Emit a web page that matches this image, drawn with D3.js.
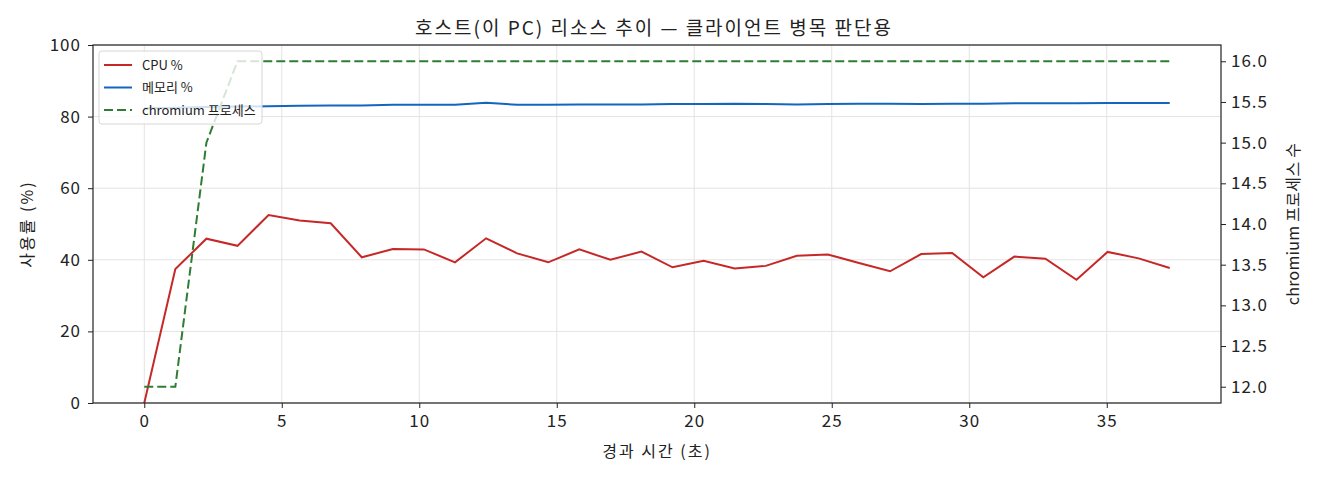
<!DOCTYPE html>
<html>
<head>
<meta charset="utf-8">
<script src="https://cdn.jsdelivr.net/npm/d3@7"></script>
<style>
  body { margin: 0; background: #fff; }
  svg text { font-family: "Noto Sans CJK KR", "DejaVu Sans", sans-serif; fill: #222; }
</style>
</head>
<body>
<svg id="chart" width="1320" height="480"></svg>
<script>
// --- data ---
const elapsed = [0, 1.13, 2.26, 3.39, 4.52, 5.65, 6.78, 7.91, 9.04, 10.17,
  11.3, 12.43, 13.56, 14.69, 15.82, 16.95, 18.08, 19.21, 20.34, 21.47,
  22.6, 23.73, 24.86, 25.99, 27.12, 28.25, 29.38, 30.51, 31.64, 32.77,
  33.9, 35.03, 36.16, 37.29];
const cpuPct = [0, 37.4, 45.9, 43.9, 52.5, 51.0, 50.2, 40.7, 43.0, 42.9,
  39.3, 46.0, 41.8, 39.3, 42.9, 40.0, 42.3, 37.9, 39.7, 37.6,
  38.3, 41.1, 41.5, 39.1, 36.8, 41.6, 41.9, 35.1, 40.9, 40.3,
  34.4, 42.2, 40.4, 37.7];
const memPct = [82.3, 82.5, 82.7, 82.8, 82.9, 83.0, 83.1, 83.1, 83.3, 83.3,
  83.3, 83.9, 83.3, 83.3, 83.4, 83.4, 83.4, 83.5, 83.5, 83.6,
  83.5, 83.4, 83.5, 83.6, 83.6, 83.5, 83.6, 83.6, 83.7, 83.7,
  83.7, 83.8, 83.8, 83.8];
const chromiumProcs = [12, 12, 15, 16, 16, 16, 16, 16, 16, 16,
  16, 16, 16, 16, 16, 16, 16, 16, 16, 16,
  16, 16, 16, 16, 16, 16, 16, 16, 16, 16,
  16, 16, 16, 16];
const xTicks = [0, 5, 10, 15, 20, 25, 30, 35];
const leftTicks = [0, 20, 40, 60, 80, 100];
const rightTicks = [12.0, 12.5, 13.0, 13.5, 14.0, 14.5, 15.0, 15.5, 16.0];

// --- layout ---
const svg = d3.select("#chart");
const margin = { top: 45, right: 99, bottom: 77, left: 93 };
const W = 1320, H = 480;
const innerW = W - margin.left - margin.right;
const innerH = H - margin.top - margin.bottom;

const xPad = (d3.max(elapsed) - d3.min(elapsed)) * 0.05;
const x = d3.scaleLinear()
  .domain([d3.min(elapsed) - xPad, d3.max(elapsed) + xPad])
  .range([0, innerW]);
const yL = d3.scaleLinear().domain([0, 100]).range([innerH, 0]);
const rPad = (d3.max(chromiumProcs) - d3.min(chromiumProcs)) * 0.05;
const yR = d3.scaleLinear()
  .domain([d3.min(chromiumProcs) - rPad, d3.max(chromiumProcs) + rPad])
  .range([innerH, 0]);

const g = svg.append("g").attr("transform", `translate(${margin.left},${margin.top})`);

// --- grid ---
g.append("g").selectAll("line").data(xTicks).join("line")
  .attr("x1", d => x(d)).attr("x2", d => x(d))
  .attr("y1", 0).attr("y2", innerH)
  .attr("stroke", "#e3e3e3").attr("stroke-width", 1);
g.append("g").selectAll("line").data(leftTicks).join("line")
  .attr("x1", 0).attr("x2", innerW)
  .attr("y1", d => yL(d)).attr("y2", d => yL(d))
  .attr("stroke", "#e3e3e3").attr("stroke-width", 1);

// --- lines ---
const dash = "9,4";
const idx = d3.range(elapsed.length);
const cpuLine = d3.line().x(i => x(elapsed[i])).y(i => yL(cpuPct[i]));
const memLine = d3.line().x(i => x(elapsed[i])).y(i => yL(memPct[i]));
const procLine = d3.line().x(i => x(elapsed[i])).y(i => yR(chromiumProcs[i]));

g.append("clipPath").attr("id", "plotclip")
  .append("rect").attr("width", innerW).attr("height", innerH);

const plot = g.append("g").attr("clip-path", "url(#plotclip)");
plot.append("path").datum(idx).attr("d", cpuLine)
  .attr("fill", "none").attr("stroke", "#c62828").attr("stroke-width", 2);
plot.append("path").datum(idx).attr("d", memLine)
  .attr("fill", "none").attr("stroke", "#1565c0").attr("stroke-width", 2);
plot.append("path").datum(idx).attr("d", procLine)
  .attr("fill", "none").attr("stroke", "#2e7d32").attr("stroke-width", 2)
  .attr("stroke-dasharray", dash);

// --- axes ---
function styleAxis(sel) {
  sel.select(".domain").remove();
  sel.selectAll(".tick line").attr("stroke", "#222").attr("stroke-width", 1);
  sel.selectAll(".tick text")
    .style("font-size", "17px")
    .style("letter-spacing", "1px")
    .attr("fill", "#222");
}
g.append("g").attr("transform", `translate(0,${innerH})`)
  .call(d3.axisBottom(x).tickValues(xTicks).tickFormat(d3.format("d")).tickSize(5).tickPadding(7))
  .call(styleAxis);
g.append("g")
  .call(d3.axisLeft(yL).tickValues(leftTicks).tickFormat(d3.format("d")).tickSize(5).tickPadding(7))
  .call(styleAxis);
g.append("g").attr("transform", `translate(${innerW},0)`)
  .call(d3.axisRight(yR).tickValues(rightTicks).tickFormat(d3.format(".1f")).tickSize(5).tickPadding(5))
  .call(styleAxis);

// frame
g.append("rect").attr("width", innerW).attr("height", innerH)
  .attr("fill", "none").attr("stroke", "#222").attr("stroke-width", 1.2);

// --- labels ---
svg.append("text")
  .attr("x", margin.left + innerW / 2 - 3).attr("y", 35)
  .attr("text-anchor", "middle")
  .style("font-size", "19px").style("letter-spacing", "2px")
  .text("호스트(이 PC) 리소스 추이 — 클라이언트 병목 판단용");
svg.append("text")
  .attr("x", margin.left + innerW / 2).attr("y", 457)
  .attr("text-anchor", "middle")
  .style("font-size", "16px").style("letter-spacing", "2px")
  .text("경과 시간 (초)");
svg.append("text")
  .attr("transform", `translate(33,${margin.top + innerH / 2}) rotate(-90)`)
  .attr("text-anchor", "middle")
  .style("font-size", "16px").style("letter-spacing", "2px")
  .text("사용률 (%)");
svg.append("text")
  .attr("transform", `translate(1299,${margin.top + innerH / 2}) rotate(-90)`)
  .attr("text-anchor", "middle")
  .style("font-size", "16px").style("letter-spacing", "0.3px")
  .text("chromium 프로세스 수");

// --- legend ---
const legendItems = [
  { label: "CPU %", color: "#c62828", dash: null },
  { label: "메모리 %", color: "#1565c0", dash: null },
  { label: "chromium 프로세스", color: "#2e7d32", dash: dash }
];
const legend = g.append("g").attr("transform", "translate(6,6)");
legend.append("rect")
  .attr("width", 163).attr("height", 73).attr("rx", 3)
  .attr("fill", "rgba(255,255,255,0.8)").attr("stroke", "#d6d6d6");
legendItems.forEach((d, i) => {
  const yy = 14 + i * 22.5;
  legend.append("line")
    .attr("x1", 5).attr("x2", 33).attr("y1", yy).attr("y2", yy)
    .attr("stroke", d.color).attr("stroke-width", 2)
    .attr("stroke-dasharray", d.dash);
  legend.append("text")
    .attr("x", 43).attr("y", yy).attr("dy", "0.35em")
    .style("font-size", "13px").text(d.label);
});
</script>
</body>
</html>
